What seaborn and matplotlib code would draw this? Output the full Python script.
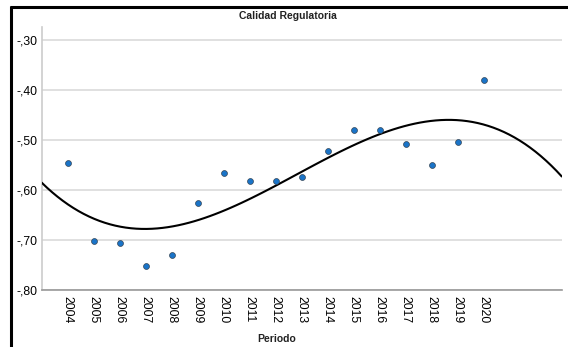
import matplotlib
matplotlib.use("Agg")
import matplotlib.pyplot as plt
from matplotlib.lines import Line2D
from matplotlib.ticker import FuncFormatter
import seaborn as sns
import numpy as np
import pandas as pd

years = [2004, 2005, 2006, 2007, 2008, 2009, 2010, 2011, 2012,
         2013, 2014, 2015, 2016, 2017, 2018, 2019, 2020]
values = [-0.545, -0.701, -0.705, -0.752, -0.731, -0.625, -0.566, -0.581, -0.582,
          -0.574, -0.522, -0.479, -0.479, -0.507, -0.550, -0.503, -0.379]
yticks = [-0.30, -0.40, -0.50, -0.60, -0.70, -0.80]
title = "Calidad Regulatoria"
xlabel = "Periodo"

df = pd.DataFrame({"Periodo": years, "Valor": values})

sns.set_theme(style="white")
plt.rcParams["font.family"] = ["Liberation Sans", "DejaVu Sans"]

fig = plt.figure(figsize=(5.68, 3.47), dpi=100)
ax = fig.add_axes([0.0734, 0.1643, 0.9156, 0.7577])
ax.set_xlim(2003, 2023)
ax.set_ylim(-0.80, -0.274)

sns.regplot(data=df, x="Periodo", y="Valor", order=3, ci=None, truncate=False,
            scatter=False, ax=ax, line_kws=dict(color="black", lw=1.5, zorder=3))
sns.scatterplot(data=df, x="Periodo", y="Valor", ax=ax, s=18, color="#1a74c8",
                edgecolor="#334455", linewidth=0.5, zorder=4)
ax.set_xlim(2003, 2023)
ax.set_ylim(-0.80, -0.274)

ax.set_yticks(yticks)
ax.yaxis.set_major_formatter(FuncFormatter(lambda v, p: "-,%02d" % round(abs(v) * 100)))
ax.set_xticks(years)
ax.set_xticklabels([str(y) for y in years], rotation=-90, fontsize=8.8, color="black")
ax.tick_params(axis="y", labelsize=8.8, labelcolor="black", length=0, pad=3)
ax.tick_params(axis="x", length=0, pad=4)
ax.grid(axis="y", color="#dddddd", lw=1.3)
ax.grid(axis="x", visible=False)
ax.set_axisbelow(True)
for s in ["top", "right"]:
    ax.spines[s].set_visible(False)
ax.spines["left"].set_color("#cccccc")
ax.spines["bottom"].set_color("#999999")
ax.spines["left"].set_linewidth(1.2)
ax.spines["bottom"].set_linewidth(1.2)
ax.set_xlabel("")
ax.set_ylabel("")

fig.text(288 / 568, 1 - 16 / 347, title, ha="center", va="center",
         fontsize=7.5, fontweight="bold", color="#222222")
fig.text(277 / 568, 1 - 339 / 347, xlabel, ha="center", va="center",
         fontsize=7.5, fontweight="bold", color="#222222")

# outer black frame (top and left)
fig.add_artist(Line2D([10 / 568, 1], [1 - 6.5 / 347, 1 - 6.5 / 347],
                      transform=fig.transFigure, color="black", lw=2.2,
                      solid_capstyle="butt"))
fig.add_artist(Line2D([10.5 / 568, 10.5 / 568], [0, 1 - 5.5 / 347],
                      transform=fig.transFigure, color="black", lw=2.2,
                      solid_capstyle="butt"))

fig.savefig("out.png", dpi=100)
